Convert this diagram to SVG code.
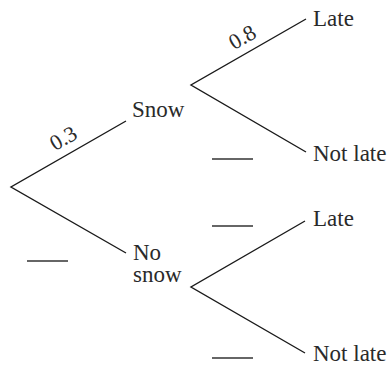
<svg xmlns="http://www.w3.org/2000/svg" width="390" height="365" viewBox="0 0 390 365">
<style>
.t{font-family:"Liberation Serif","Times New Roman",serif;font-size:23px;fill:#2a2a2a}
.p{font-family:"Liberation Serif","Times New Roman",serif;font-size:22px;fill:#2a2a2a}
.e{stroke:#1a1a1a;stroke-width:1.4;fill:none}
.b{stroke:#333;stroke-width:1.5}
</style>
<rect width="390" height="365" fill="#fff"/>
<g id="connectors">
<polyline class="e" points="126,121 11,187 126,253"/>
<polyline class="e" points="306,19 191,85 306,152"/>
<polyline class="e" points="305,221 191,287 305,353"/>
</g>
<g id="edge-labels">
<text class="p" text-anchor="middle" transform="translate(66.8,144.5) rotate(-29.9)">0.3</text>
<text class="p" text-anchor="middle" transform="translate(245.8,43.5) rotate(-29.9)">0.8</text>
</g>
<g id="blanks">
<line class="b" x1="27" y1="261" x2="68" y2="261"/>
<line class="b" x1="212" y1="159" x2="253" y2="159"/>
<line class="b" x1="212" y1="226" x2="253" y2="226"/>
<line class="b" x1="212" y1="358" x2="253" y2="358"/>
</g>
<g id="snow"><text class="t" x="132" y="117">Snow</text></g>
<g id="nosnow"><text class="t" x="133" y="260">No</text><text class="t" x="133" y="282">snow</text></g>
<g id="late1"><text class="t" x="313" y="26">Late</text></g>
<g id="notlate1"><text class="t" x="313" y="161">Not late</text></g>
<g id="late2"><text class="t" x="313" y="226">Late</text></g>
<g id="notlate2"><text class="t" x="313" y="361">Not late</text></g>
</svg>
